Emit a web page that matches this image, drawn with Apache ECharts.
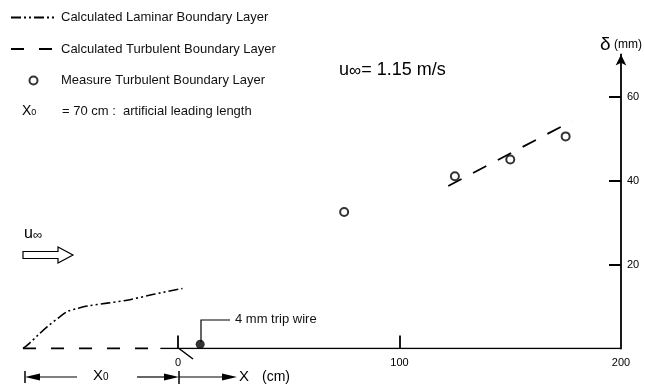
<!DOCTYPE html>
<html><head><meta charset="utf-8">
<script src="https://cdn.jsdelivr.net/npm/echarts@6/dist/echarts.min.js"></script>
<style>html,body{margin:0;padding:0;background:#fff}#c{width:645px;height:388px}</style>
</head><body><div id="c"></div>
<script>
// ---- data (x in cm, delta in mm) ----
const laminarX = [-70, -67, -63, -59, -54, -50, -45, -41, -32, -23, -11, 2];
const laminarY = [0, 1.3, 3.3, 5.2, 7.3, 8.8, 9.6, 10.1, 10.8, 11.5, 12.9, 14.3];
const plateX = [-70, -8];
const plateY = [0, 0];
const turbX = [122, 178];
const turbY = [38.7, 54.2];
const measX = [75, 125, 150, 175];
const measY = [32.5, 41, 45, 50.5];
const wallX = [-8, 200];
const wallY = [0, 0];
const tripX = [10];
const tripY = [1];
const xTickValues = [0, 100];
const xLabelValues = [0, 100, 200];
const yTickValues = [20, 40, 60];

const FONT = "'Liberation Sans', Arial, Helvetica, sans-serif";
const zip = (a, b) => a.map((v, i) => [v, b[i]]);

const chart = echarts.init(document.getElementById('c'), null, {renderer: 'canvas'});
const option = {
  animation: false,
  backgroundColor: '#fff',
  textStyle: {fontFamily: FONT, color: '#000'},
  grid: {left: 23, right: 24, top: 54.5, bottom: 39.5, containLabel: false},
  legend: {
    orient: 'vertical', left: 5, top: 6,
    itemWidth: 45, itemHeight: 8, itemGap: 18.5,
    textStyle: {fontFamily: FONT, fontSize: 13, color: '#111'},
    data: [
      {name: 'Calculated Laminar Boundary Layer', itemStyle: {opacity: 0}},
      {name: 'Calculated Turbulent Boundary Layer', itemStyle: {opacity: 0}},
      {name: 'Measure Turbulent Boundary Layer'}
    ],
    selectedMode: false
  },
  xAxis: {
    type: 'value', min: -70, max: 200,
    axisLine: {show: false, onZero: false},
    axisTick: {show: true, inside: true, length: 13, customValues: xTickValues, lineStyle: {color: '#000', width: 1.8}},
    axisLabel: {customValues: xLabelValues, margin: 9, fontSize: 11, color: '#000', fontFamily: FONT},
    splitLine: {show: false}
  },
  yAxis: {
    type: 'value', position: 'right', min: 0, max: 70,
    name: '{d|δ}{m| (mm)}', nameLocation: 'end', nameGap: 0,
    nameTextStyle: {rich: {d: {fontSize: 19, fontFamily: FONT, color: '#000'}, m: {fontSize: 12, fontFamily: FONT, color: '#000'}}},
    axisLine: {show: true, onZero: false, symbol: ['none', 'arrow'], symbolSize: [8, 11], lineStyle: {color: '#000', width: 1.8}},
    axisTick: {show: true, inside: true, length: 12, customValues: yTickValues, lineStyle: {color: '#000', width: 2}},
    axisLabel: {customValues: yTickValues, margin: 6, fontSize: 11, color: '#000', fontFamily: FONT},
    splitLine: {show: false}
  },
  series: [
    {name: 'Calculated Laminar Boundary Layer', type: 'line', data: zip(laminarX, laminarY), smooth: 0.3,
     symbol: 'none', lineStyle: {color: '#000', width: 1.6, type: [10, 3, 2, 3, 2, 3]}, itemStyle: {color: '#000'}},
    {name: 'Calculated Turbulent Boundary Layer', type: 'line', data: zip(plateX, plateY),
     symbol: 'none', lineStyle: {color: '#000', width: 1.8, type: [13, 15]}, itemStyle: {color: '#000'}},
    {name: 'Calculated Turbulent Boundary Layer', type: 'line', data: zip(turbX, turbY),
     symbol: 'none', lineStyle: {color: '#000', width: 1.8, type: [15, 13]}, itemStyle: {color: '#000'}},
    {name: 'Measure Turbulent Boundary Layer', type: 'scatter', data: zip(measX, measY),
     symbol: 'emptyCircle', symbolSize: 8, itemStyle: {color: '#000', borderColor: '#000', borderWidth: 1.3}},
    {name: 'wall', type: 'line', data: zip(wallX, wallY), symbol: 'none', silent: true,
     lineStyle: {color: '#000', width: 1.5}},
    {name: 'trip', type: 'scatter', data: zip(tripX, tripY), symbol: 'circle', symbolSize: 9,
     itemStyle: {color: '#000'}, z: 5}
  ],
  graphic: [
    // legend line 4
    {type: 'text', left: 22, top: 104, style: {text: '{a|X}{b|0}', rich: {a: {fontSize: 14, fontFamily: FONT, fill: '#000'}, b: {fontSize: 9, fontFamily: FONT, fill: '#000', padding: [4, 0, 0, 0]}}}},
    {type: 'text', left: 62, top: 105, style: {text: '= 70 cm :  artificial leading length', fontSize: 13, fontFamily: FONT, fill: '#111'}},
    // velocity
    {type: 'text', left: 339, top: 61, style: {text: '{a|u}{b|∞}{a|= 1.15 m/s}', rich: {a: {fontSize: 18, fontFamily: FONT, fill: '#000'}, b: {fontSize: 17, fontFamily: FONT, fill: '#000', padding: [3, 0, 0, 0]}}}},
    {type: 'text', left: 24, top: 226, style: {text: '{a|u}{b|∞}', rich: {a: {fontSize: 16, fontFamily: FONT, fill: '#000'}, b: {fontSize: 13, fontFamily: FONT, fill: '#000', padding: [3, 0, 0, 0]}}}},
    {type: 'polygon', shape: {points: [[23, 251.5], [58, 251.5], [58, 247], [73, 255], [58, 263], [58, 258.5], [23, 258.5]]}, style: {fill: '#fff', stroke: '#000', lineWidth: 1.2}},
    // trip wire annotation
    {type: 'polyline', shape: {points: [[201, 342], [201, 320], [230, 320]]}, style: {stroke: '#000', lineWidth: 1.2, fill: null}},
    {type: 'text', left: 235, top: 313, style: {text: '4 mm trip wire', fontSize: 13, fontFamily: FONT, fill: '#111'}},
    // slanted mark at x = 0
    {type: 'line', shape: {x1: 179, y1: 348.5, x2: 193, y2: 359}, style: {stroke: '#000', lineWidth: 1.5}},
    // bottom X0 / X annotation
    {type: 'line', shape: {x1: 25, y1: 371, x2: 25, y2: 383}, style: {stroke: '#000', lineWidth: 1.5}},
    {type: 'line', shape: {x1: 36, y1: 377, x2: 77, y2: 377}, style: {stroke: '#000', lineWidth: 1.2}},
    {type: 'polygon', shape: {points: [[25, 377], [40, 373.5], [40, 380.5]]}, style: {fill: '#000'}},
    {type: 'text', left: 93, top: 368, style: {text: '{a|X}{b|0}', rich: {a: {fontSize: 15, fontFamily: FONT, fill: '#000'}, b: {fontSize: 10, fontFamily: FONT, fill: '#000', padding: [4, 0, 0, 0]}}}},
    {type: 'line', shape: {x1: 137, y1: 377, x2: 168, y2: 377}, style: {stroke: '#000', lineWidth: 1.2}},
    {type: 'polygon', shape: {points: [[179, 377], [164, 373.5], [164, 380.5]]}, style: {fill: '#000'}},
    {type: 'line', shape: {x1: 179, y1: 371, x2: 179, y2: 384}, style: {stroke: '#000', lineWidth: 1.5}},
    {type: 'line', shape: {x1: 179, y1: 377, x2: 226, y2: 377}, style: {stroke: '#000', lineWidth: 1.2}},
    {type: 'polygon', shape: {points: [[237, 377], [222, 373.5], [222, 380.5]]}, style: {fill: '#000'}},
    {type: 'text', left: 239, top: 369, style: {text: 'X', fontSize: 15, fontFamily: FONT, fill: '#000'}},
    {type: 'text', left: 262, top: 370, style: {text: '(cm)', fontSize: 14, fontFamily: FONT, fill: '#000'}}
  ]
};
chart.setOption(option);
</script>
</body></html>
